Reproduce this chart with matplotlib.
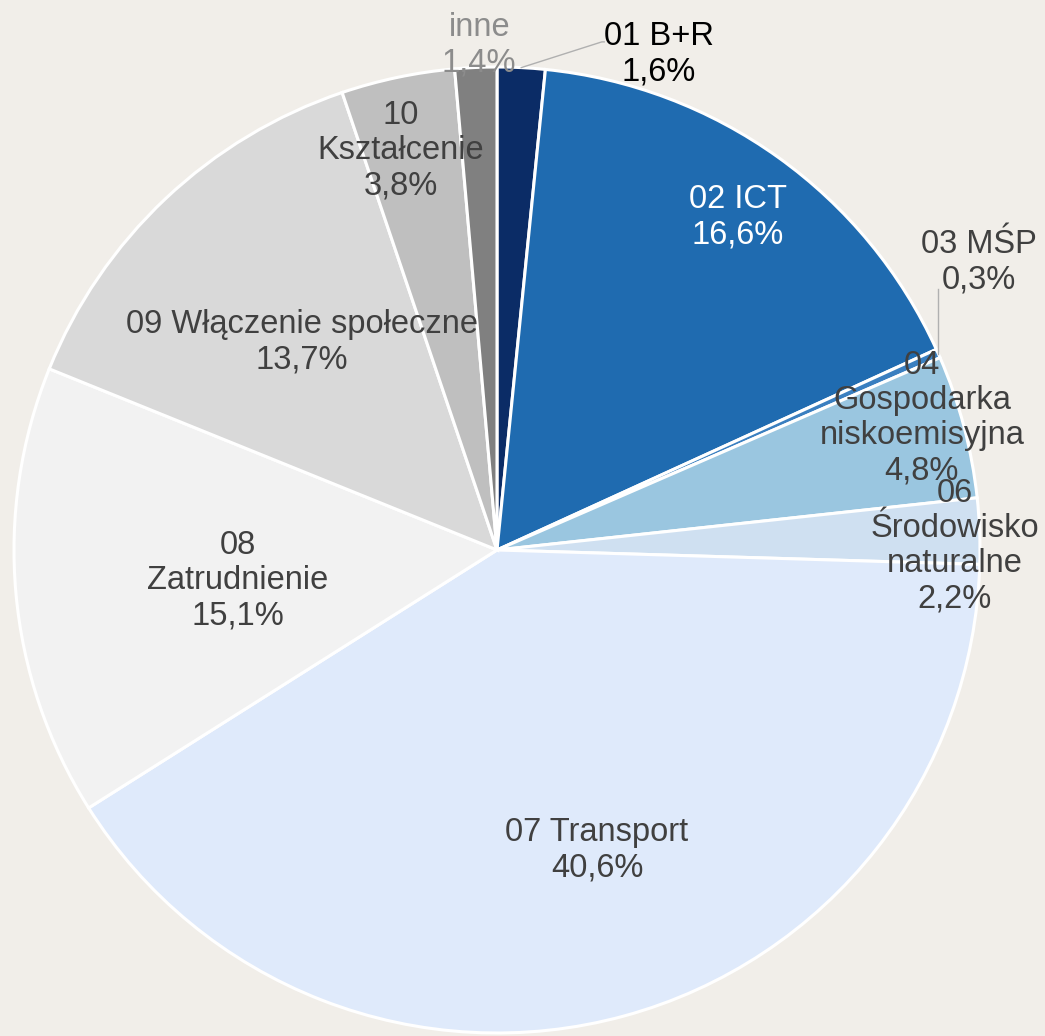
import numpy as np
import matplotlib.pyplot as plt

plt.rcParams['font.family'] = ['Liberation Sans', 'DejaVu Sans']

labels = ["01 B+R", "02 ICT", "03 MŚP", "04\nGospodarka\nniskoemisyjna", "06\nŚrodowisko\nnaturalne",
          "07 Transport", "08\nZatrudnienie", "09 Włączenie społeczne", "10\nKształcenie", "inne"]
values = [1.6, 16.6, 0.3, 4.8, 2.2, 40.6, 15.1, 13.7, 3.8, 1.4]
pct_text = ["1,6%", "16,6%", "0,3%", "4,8%", "2,2%", "40,6%", "15,1%", "13,7%", "3,8%", "1,4%"]

colors = ["#0b2c66", "#1f6bb0", "#3a7fc0", "#9ac6e0", "#cfe0f1",
          "#dfeafb", "#f2f2f2", "#d9d9d9", "#bfbfbf", "#808080"]
text_colors = ["#000000", "#ffffff", "#404040", "#404040", "#404040",
               "#404040", "#404040", "#404040", "#404040", "#8c8c8c"]
# label placement: radius (in pie radii) and angle shift from wedge middle
label_dist = [1.08, 0.85, 1.162, 0.921, 0.948, 0.655, 0.54, 0.59, 0.85, 1.046]
label_shift = [-15.2, -0.3, 6.8, 2.4, -1.75, 3.15, 1.7, -0.15, 1.7, -0.5]

W, H = 1045, 1036
cx, cy, R = 497, 550, 483
fig = plt.figure(figsize=(W / 100, H / 100), dpi=100)
fig.patch.set_facecolor("#f1eee9")
ax = fig.add_axes([0, 0, 1, 1])
ax.set_facecolor("#f1eee9")

wedges, _ = ax.pie(values, colors=colors, startangle=90, counterclock=False, radius=1,
                   wedgeprops=dict(edgecolor="white", linewidth=2.2), normalize=True)
ax.set_aspect("auto")
ax.set_xlim(-cx / R, (W - cx) / R)
ax.set_ylim(-(H - cy) / R, cy / R)
ax.axis("off")

for i, w in enumerate(wedges):
    mid = (w.theta1 + w.theta2) / 2
    a = np.deg2rad(mid + label_shift[i])
    tx, ty = label_dist[i] * np.cos(a), label_dist[i] * np.sin(a)
    ax.text(tx, ty, labels[i] + "\n" + pct_text[i], ha="center", va="center",
            fontsize=23.5, color=text_colors[i], linespacing=1.18)

# leader lines for the small outside labels
m0 = np.deg2rad((wedges[0].theta1 + wedges[0].theta2) / 2)
ax.plot([np.cos(m0), 0.217, 0.222], [np.sin(m0), 1.052, 1.052], color="#b0b0b0", lw=1)
m2 = np.deg2rad((wedges[2].theta1 + wedges[2].theta2) / 2)
ax.plot([np.cos(m2), np.cos(m2)], [np.sin(m2), 0.54], color="#b0b0b0", lw=1)

fig.savefig("out.png", dpi=100, facecolor=fig.get_facecolor())
